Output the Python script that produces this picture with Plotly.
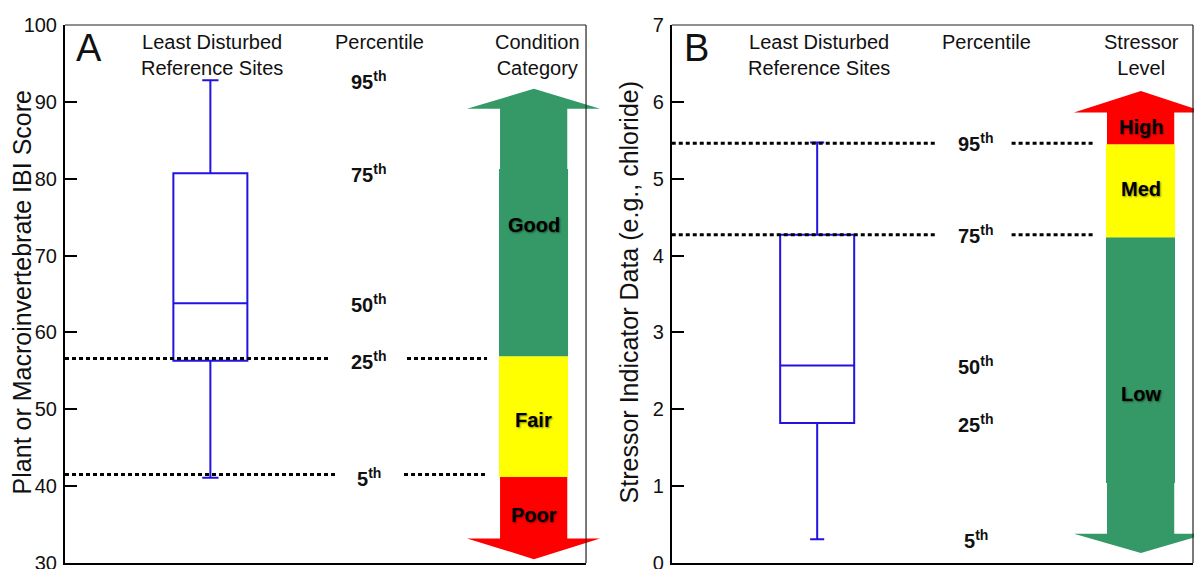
import plotly.graph_objects as go

# ---------------- data ----------------
# Panel A: IBI score box (5th, 25th, 50th, 75th, 95th)
a_stats = [41.1, 56.3, 63.8, 80.7, 92.8]
a_thresholds = [41.5, 56.6]           # dotted lines: 5th, 25th
a_cat_names = ["Poor", "Fair", "Good"]
a_cat_bounds = [41.2, 56.9, 81.25]    # Poor|Fair, Fair|Good, Good top (arrow shaft start)
a_arrow_up = [89.1, 91.7]             # head base, tip
a_arrow_down = [33.2, 30.5]           # head base, tip
a_cat_label_y = [36.3, 48.6, 74.0]

# Panel B: stressor indicator box
b_stats = [0.31, 1.82, 2.57, 4.27, 5.47]
b_thresholds = [4.27, 5.46]           # dotted lines: 75th, 95th
b_cat_names = ["Low", "Med", "High"]
b_cat_bounds = [1.04, 4.24, 5.45]     # Low bottom (arrow shaft start), Low|Med, Med|High
b_arrow_up = [5.86, 6.14]
b_arrow_down = [0.38, 0.13]
b_cat_label_y = [2.2, 4.87, 5.67]

pct_labels = ["5", "25", "50", "75", "95"]
a_yticks = [30, 40, 50, 60, 70, 80, 90, 100]
b_yticks = [0, 1, 2, 3, 4, 5, 6, 7]

GREEN = "#349966"
YELLOW = "#FFFF00"
RED = "#FF0000"
BLUE = "#2312E2"
FONT = "Liberation Sans, Arial, sans-serif"

W, H = 1194, 569
ML, MR, MT, MB = 65, 1, 25, 6

fig = go.Figure()

# layout geometry (domain fractions)
dom_a = [0.0, 0.4619]
dom_b = [0.5379, 1.0]

BOX_X = 0.279
BOX_W = 0.142
LBL_X = 0.583
# arrow geometry in x-domain fractions
SH0, SH1 = 0.835, 0.964      # shaft
HD0, HD1 = 0.7716, 1.0269    # head
TIPX = 0.900
RC0, RC1 = 0.833, 0.9655     # category rectangles

for xa, ya, st, ww in [("x", "y", a_stats, 0.22), ("x2", "y2", b_stats, 0.19)]:
    fig.add_trace(go.Box(
        x=[BOX_X], lowerfence=[st[0]], q1=[st[1]], median=[st[2]], q3=[st[3]],
        upperfence=[st[4]], width=BOX_W, whiskerwidth=ww,
        line=dict(color=BLUE, width=2), fillcolor="rgba(255,255,255,0)",
        boxpoints=False, xaxis=xa, yaxis=ya, hoverinfo="skip", showlegend=False))

# dotted percentile lines (two segments around label)
DOT = "4px,3px"
def dotted(xa, ya, y, segs):
    for x0, x1 in segs:
        fig.add_trace(go.Scatter(x=[x0, x1], y=[y, y], mode="lines",
                                 line=dict(color="black", width=3, dash=DOT),
                                 xaxis=xa, yaxis=ya, showlegend=False, hoverinfo="skip"))

dotted("x", "y", a_thresholds[0], [(0.0, 0.524), (0.6507, 0.81)])
dotted("x", "y", a_thresholds[1], [(0.0, 0.5086), (0.6564, 0.81)])
for t in b_thresholds:
    dotted("x2", "y2", t, [(0.0, 0.508), (0.652, 0.808)])

shapes = []
def rect(xr, yr, y0, y1, color):
    shapes.append(dict(type="rect", xref=xr + " domain", yref=yr, x0=RC0, x1=RC1,
                       y0=y0, y1=y1, fillcolor=color, line=dict(width=0), layer="below"))

def up_arrow(xr, yr, ystart, hb, tip, color):
    p = (f"M{SH0},{ystart} L{SH0},{hb} L{HD0},{hb} L{TIPX},{tip} L{HD1},{hb} "
         f"L{SH1},{hb} L{SH1},{ystart} Z")
    shapes.append(dict(type="path", xref=xr + " domain", yref=yr, path=p,
                       fillcolor=color, line=dict(width=0), layer="below"))

# Panel A categories
rect("x", "y", a_cat_bounds[0], a_cat_bounds[1], YELLOW)
rect("x", "y", a_cat_bounds[1], a_cat_bounds[2], GREEN)
up_arrow("x", "y", a_cat_bounds[2], a_arrow_up[0], a_arrow_up[1], GREEN)
up_arrow("x", "y", a_cat_bounds[0], a_arrow_down[0], a_arrow_down[1], RED)
# Panel B categories
rect("x2", "y2", b_cat_bounds[0], b_cat_bounds[1], GREEN)
rect("x2", "y2", b_cat_bounds[1], b_cat_bounds[2], YELLOW)
up_arrow("x2", "y2", b_cat_bounds[2], b_arrow_up[0], b_arrow_up[1], RED)
up_arrow("x2", "y2", b_cat_bounds[0], b_arrow_down[0], b_arrow_down[1], GREEN)

# thin top/right borders
for xr, yr in [("x", "y"), ("x2", "y2")]:
    shapes.append(dict(type="line", xref=xr + " domain", yref=yr + " domain",
                       x0=0, x1=1, y0=1, y1=1, line=dict(color="#222", width=1.2)))
    shapes.append(dict(type="line", xref=xr + " domain", yref=yr + " domain",
                       x0=1, x1=1, y0=0, y1=1, line=dict(color="#222", width=1.2)))

ann = []
def txt(xr, yr, x, y, text, size, bold=False, **kw):
    d = dict(xref=xr, yref=yr, x=x, y=y, text=text, showarrow=False,
             xanchor="center", yanchor="middle",
             font=dict(family=FONT, size=size, color="#111",
                       weight="bold" if bold else "normal"))
    d.update(kw)
    ann.append(d)

# percentile labels
for xa, ya, st in [("x", "y", a_stats), ("x2", "y2", b_stats)]:
    for lab, v in zip(pct_labels, st):
        txt(xa, ya, LBL_X, v, f"<b>{lab}<sup>th</sup></b>", 20)

# category labels
shadow = "1px 1px 2px rgba(0,0,0,0.45)"
for xa, ya, names, ys in [("x", "y", a_cat_names, a_cat_label_y),
                          ("x2", "y2", b_cat_names, b_cat_label_y)]:
    for n, v in zip(names, ys):
        d = dict(xref=xa + " domain", yref=ya, x=TIPX, y=v, text=f"<b>{n}</b>",
                 showarrow=False, xanchor="center", yanchor="middle",
                 font=dict(family=FONT, size=20, color="#000", shadow=shadow))
        ann.append(d)

# headers
for xa, ya, letter, third, lx in [("x", "y", "A", "Condition<br>Category", 0.906),
                                  ("x2", "y2", "B", "Stressor<br>Level", 0.902)]:
    txt(xa + " domain", ya + " domain", 0.283, 0.993, "Least Disturbed<br>Reference Sites", 20,
        yanchor="top")
    txt(xa + " domain", ya + " domain", 0.603, 0.993, "Percentile", 20, yanchor="top")
    txt(xa + " domain", ya + " domain", lx, 0.993, third, 20, yanchor="top")
    txt(xa + " domain", ya + " domain", 0.047, 0.957, letter, 38)

# axis titles
txt("paper", "paper", -0.0381, 0.503, "Plant or Macroinvertebrate IBI Score", 25, textangle=-90)
txt("paper", "paper", 0.5, 0.503, "Stressor Indicator Data (e.g., chloride)", 25, textangle=-90)

xcommon = dict(range=[0, 1], showticklabels=False, ticks="", showgrid=False, zeroline=False,
               showline=True, linecolor="black", linewidth=2, fixedrange=True,
               automargin=False)
ycommon = dict(showgrid=False, zeroline=False, showline=True, linecolor="black", linewidth=2,
               ticks="inside", ticklen=12, tickwidth=2, tickcolor="black",
               tickfont=dict(family=FONT, size=20, color="#111"), ticklabelstandoff=2,
               ticklabeloverflow="allow", automargin=False)

fig.update_layout(
    width=W, height=H, margin=dict(l=ML, r=MR, t=MT, b=MB, autoexpand=False),
    plot_bgcolor="white", paper_bgcolor="white", showlegend=False,
    xaxis=dict(domain=dom_a, **xcommon),
    xaxis2=dict(domain=dom_b, anchor="y2", **xcommon),
    yaxis=dict(range=[30, 100], tickvals=a_yticks, anchor="x", **ycommon),
    yaxis2=dict(range=[0, 7], tickvals=b_yticks, anchor="x2", **ycommon),
    shapes=shapes, annotations=ann,
)

fig.write_html("out.html")
